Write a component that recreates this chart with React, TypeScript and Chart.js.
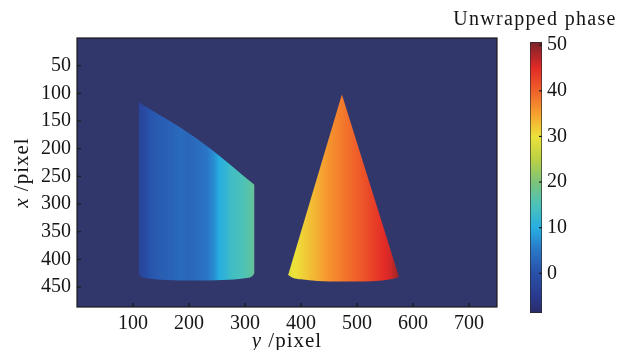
import React, { useEffect, useRef } from 'react';
import { Chart, registerables } from 'chart.js';
Chart.register(...registerables);

// ---- axes ----
const hTicks = [100, 200, 300, 400, 500, 600, 700]; // horizontal axis: y /pixel
const vTicks = [50, 100, 150, 200, 250, 300, 350, 400, 450]; // vertical axis: x /pixel
const hRange = [0, 750];
const vRange = [0, 486];

// ---- colour bar ----
const cbTicks = [0, 10, 20, 30, 40, 50];
const cbRange = [-8.7, 50.7];
const cmapValues = [-8.7, -5, 0, 5, 10, 15, 20, 25, 30, 35, 40, 45, 50, 50.7];
const cmapColors = ['#2b2c69', '#2a3a8e', '#2850a8', '#2a76c6', '#27aee2', '#4cc2b8', '#7cc47a', '#bcd044', '#ece23a', '#f6a030', '#f0602a', '#e22a26', '#86232a', '#7a2228'];
const backgroundColor = '#31376b';

// ---- left object (truncated cylinder) ----
const leftTopY = [110, 213, 317];
const leftTopX = [116, 181, 265];
const leftBottomY = [110, 113, 125, 160, 210, 260, 300, 312, 317];
const leftBottomX = [424, 430, 434, 437, 438, 437, 434, 431, 425];
const leftStopY = [110, 120, 130, 143, 170, 185, 200, 215, 232, 244, 256, 266, 275, 290, 305, 317];
const leftStopPhase = [-2.5, -1.5, 0.5, 1.5, 2.5, 3.5, 2.8, 3.8, 5, 7, 10.5, 11.5, 13.5, 14.5, 16, 18];

// ---- right object (cone) ----
const coneTopY = [377, 473, 575];
const coneTopX = [428, 102, 432];
const coneBottomY = [377, 385, 400, 430, 470, 510, 545, 565, 575];
const coneBottomX = [428, 433, 436, 439, 440, 440, 438, 435, 432];
const coneStopY = [377, 395, 420, 450, 480, 510, 540, 560, 575];
const coneStopPhase = [29, 30.5, 33, 36, 38.5, 41, 44, 46, 49];

const FONT = "'Liberation Serif', 'Times New Roman', serif";
const TEXT = '#151515';

function hexToRgb(h: string) {
  const n = parseInt(h.slice(1), 16);
  return [(n >> 16) & 255, (n >> 8) & 255, n & 255];
}
function phaseColor(p: number) {
  if (p <= cmapValues[0]) return cmapColors[0];
  for (let i = 0; i < cmapValues.length - 1; i++) {
    if (p <= cmapValues[i + 1]) {
      const t = (p - cmapValues[i]) / (cmapValues[i + 1] - cmapValues[i]);
      const a = hexToRgb(cmapColors[i]);
      const b = hexToRgb(cmapColors[i + 1]);
      const c = a.map((v, k) => Math.round(v + (b[k] - v) * t));
      return `rgb(${c[0]},${c[1]},${c[2]})`;
    }
  }
  return cmapColors[cmapColors.length - 1];
}

function hGradient(chart: any, ys: number[], ph: number[]) {
  const xs = chart.scales.x;
  const p0 = xs.getPixelForValue(ys[0]);
  const p1 = xs.getPixelForValue(ys[ys.length - 1]);
  const g = chart.ctx.createLinearGradient(p0, 0, p1, 0);
  const N = 6;
  for (let i = 0; i < ys.length - 1; i++) {
    for (let k = 0; k < N; k++) {
      const t = k / N;
      const y = ys[i] + (ys[i + 1] - ys[i]) * t;
      const p = ph[i] + (ph[i + 1] - ph[i]) * t;
      g.addColorStop(Math.min(1, Math.max(0, (xs.getPixelForValue(y) - p0) / (p1 - p0))), phaseColor(p));
    }
  }
  g.addColorStop(1, phaseColor(ph[ph.length - 1]));
  return g;
}

function pts(a: number[], b: number[]) {
  return a.map((v, i) => ({ x: v, y: b[i] }));
}

function drawMixed(ctx: any, italicPart: string, rest: string, size: number, spacing: number) {
  ctx.letterSpacing = `${spacing}px`;
  ctx.font = `italic ${size}px ${FONT}`;
  const w1 = ctx.measureText(italicPart).width;
  ctx.font = `${size}px ${FONT}`;
  const w2 = ctx.measureText(rest).width;
  const start = -(w1 + w2) / 2;
  ctx.textAlign = 'left';
  ctx.textBaseline = 'middle';
  ctx.font = `italic ${size}px ${FONT}`;
  ctx.fillText(italicPart, start, 0);
  ctx.font = `${size}px ${FONT}`;
  ctx.fillText(rest, start + w1, 0);
  ctx.letterSpacing = '0px';
}

const mainPlugin = {
  id: 'mainDeco',
  beforeDatasetsDraw(chart: any) {
    const { ctx, chartArea: a } = chart;
    ctx.save();
    ctx.fillStyle = backgroundColor;
    ctx.fillRect(a.left, a.top, a.right - a.left, a.bottom - a.top);
    ctx.restore();
  },
  afterDraw(chart: any) {
    const { ctx, chartArea: a } = chart;
    ctx.save();
    ctx.strokeStyle = '#1c1c1c';
    ctx.lineWidth = 1.2;
    ctx.strokeRect(a.left, a.top, a.right - a.left, a.bottom - a.top);
    vTicks.forEach((v) => {
      const y = chart.scales.y.getPixelForValue(v);
      ctx.beginPath();
      ctx.moveTo(a.left, y);
      ctx.lineTo(a.left + 4, y);
      ctx.stroke();
    });
    hTicks.forEach((v) => {
      const x = chart.scales.x.getPixelForValue(v);
      ctx.beginPath();
      ctx.moveTo(x, a.bottom);
      ctx.lineTo(x, a.bottom - 4);
      ctx.stroke();
    });
    ctx.fillStyle = TEXT;
    ctx.save();
    ctx.translate(22, (a.top + a.bottom) / 2);
    ctx.rotate(-Math.PI / 2);
    drawMixed(ctx, 'x', ' /pixel', 21, 1);
    ctx.restore();
    ctx.save();
    ctx.translate((a.left + a.right) / 2, 341);
    drawMixed(ctx, 'y', ' /pixel', 21, 1);
    ctx.restore();
    ctx.restore();
  },
};

const cbPlugin = {
  id: 'cbDeco',
  afterDraw(chart: any) {
    const { ctx, chartArea: a } = chart;
    ctx.save();
    ctx.strokeStyle = '#1c1c1c';
    ctx.lineWidth = 1.2;
    cbTicks.forEach((v) => {
      const y = chart.scales.y.getPixelForValue(v);
      ctx.beginPath();
      ctx.moveTo(a.right - 3, y);
      ctx.lineTo(a.right, y);
      ctx.stroke();
    });
    ctx.fillStyle = TEXT;
    ctx.font = `20px ${FONT}`;
    (ctx as any).letterSpacing = '1.3px';
    ctx.textAlign = 'center';
    ctx.textBaseline = 'middle';
    ctx.fillText('Unwrapped phase', 95, 20);
    ctx.restore();
  },
};

export default function App() {
  const mainRef = useRef<HTMLCanvasElement>(null);
  const cbRef = useRef<HTMLCanvasElement>(null);

  useEffect(() => {
    const tickFont = { family: FONT, size: 20 };
    const lineBase = { showLine: true, pointRadius: 0, borderWidth: 0, borderColor: 'rgba(0,0,0,0)' };
    const main = new Chart(mainRef.current!, {
      type: 'scatter',
      data: {
        datasets: [
          {
            ...lineBase,
            data: pts(leftTopY, leftTopX),
            tension: 0.35,
            fill: '+1',
            backgroundColor: (c: any) => (c.chart.chartArea ? hGradient(c.chart, leftStopY, leftStopPhase) : 'rgba(0,0,0,0)'),
          },
          { ...lineBase, data: pts(leftBottomY, leftBottomX), cubicInterpolationMode: 'monotone', fill: false },
          {
            ...lineBase,
            data: pts(coneTopY, coneTopX),
            tension: 0,
            fill: '+1',
            backgroundColor: (c: any) => (c.chart.chartArea ? hGradient(c.chart, coneStopY, coneStopPhase) : 'rgba(0,0,0,0)'),
          },
          { ...lineBase, data: pts(coneBottomY, coneBottomX), cubicInterpolationMode: 'monotone', fill: false },
        ] as any,
      },
      options: {
        animation: false,
        responsive: false,
        devicePixelRatio: 1,
        layout: { padding: { left: 0, top: 38, right: 120, bottom: 0 } },
        plugins: { legend: { display: false }, tooltip: { enabled: false }, title: { display: false } },
        scales: {
          x: {
            type: 'linear',
            min: hRange[0],
            max: hRange[1],
            grid: { display: false, drawTicks: false },
            border: { display: false },
            ticks: { font: tickFont, color: TEXT, padding: 5, maxRotation: 0, autoSkip: false, callback: (v: any) => String(v) },
            afterBuildTicks: (s: any) => { s.ticks = hTicks.map((v) => ({ value: v })); },
            afterFit: (s: any) => { s.height = 43; },
          },
          y: {
            type: 'linear',
            reverse: true,
            min: vRange[0],
            max: vRange[1],
            grid: { display: false, drawTicks: false },
            border: { display: false },
            ticks: { font: tickFont, color: TEXT, padding: 6, autoSkip: false, callback: (v: any) => String(v) },
            afterBuildTicks: (s: any) => { s.ticks = vTicks.map((v) => ({ value: v })); },
            afterFit: (s: any) => { s.width = 77; },
          },
        },
      } as any,
      plugins: [mainPlugin],
    });

    const cb = new Chart(cbRef.current!, {
      type: 'bar',
      data: {
        labels: ['phase'],
        datasets: [
          {
            data: [[cbRange[0], cbRange[1]]],
            backgroundColor: (c: any) => {
              const chart = c.chart;
              if (!chart.chartArea) return 'rgba(0,0,0,0)';
              const ys = chart.scales.y;
              const top = ys.getPixelForValue(cbRange[1]);
              const bot = ys.getPixelForValue(cbRange[0]);
              const g = chart.ctx.createLinearGradient(0, bot, 0, top);
              cmapValues.forEach((v, i) => g.addColorStop((v - cbRange[0]) / (cbRange[1] - cbRange[0]), cmapColors[i]));
              return g;
            },
            borderColor: '#2a2a2a',
            borderWidth: 1,
            borderSkipped: false,
            barPercentage: 1,
            categoryPercentage: 1,
          },
        ] as any,
      },
      options: {
        animation: false,
        responsive: false,
        devicePixelRatio: 1,
        layout: { padding: { left: 90, top: 42, right: 35, bottom: 37 } },
        plugins: { legend: { display: false }, tooltip: { enabled: false } },
        scales: {
          x: { display: false },
          y: {
            type: 'linear',
            position: 'right',
            min: cbRange[0],
            max: cbRange[1],
            grid: { display: false, drawTicks: false },
            border: { display: false },
            ticks: { font: { family: FONT, size: 20 }, color: TEXT, padding: 5, autoSkip: false, callback: (v: any) => String(v) },
            afterBuildTicks: (s: any) => { s.ticks = cbTicks.map((v) => ({ value: v })); },
            afterFit: (s: any) => { s.width = 40; },
          },
        },
      } as any,
      plugins: [cbPlugin],
    });

    return () => {
      main.destroy();
      cb.destroy();
    };
  }, []);

  return (
    <div style={{ position: 'absolute', left: 0, top: 0, width: 617, height: 350, background: '#fff' }}>
      <canvas ref={mainRef} width={617} height={350} style={{ position: 'absolute', left: 0, top: 0, width: 617, height: 350 }} />
      <canvas ref={cbRef} width={177} height={350} style={{ position: 'absolute', left: 440, top: 0, width: 177, height: 350 }} />
    </div>
  );
}
